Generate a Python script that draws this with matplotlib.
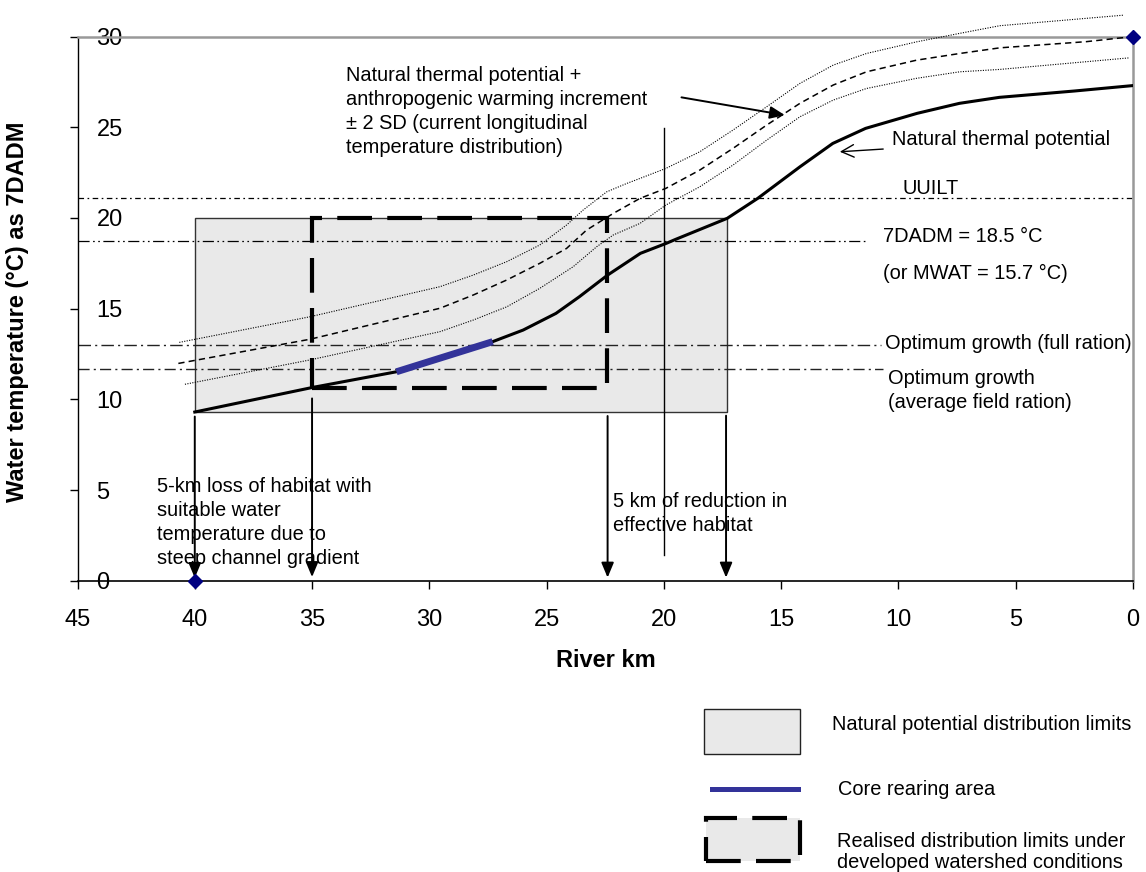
import matplotlib
matplotlib.use("Agg")
import matplotlib.pyplot as plt
from matplotlib.patches import Rectangle
from matplotlib.lines import Line2D

plt.rcParams['font.family'] = ['Liberation Sans', 'DejaVu Sans']
plt.rcParams['lines.scale_dashes'] = False

# ==========================
# data
# ==========================
nat_km = [40, 35, 31.4, 27.3, 26.0, 24.6, 23.6, 22.4, 21.0, 19.9, 19.5, 17.3, 16.0,
          14.2, 12.8, 11.4, 9.2, 7.4, 5.7, 2.5, 0]
nat_t = [9.3, 10.65, 11.52, 13.18, 13.82, 14.74, 15.66, 16.85, 18.05, 18.6, 18.82, 19.98, 21.08,
         22.82, 24.11, 24.94, 25.77, 26.32, 26.65, 27.0, 27.3]

core_km = [31.4, 27.3]
core_t = [11.52, 13.18]

mean_km = [40.7, 35.1, 29.55, 28.13, 26.7, 25.29, 24.15, 23.3, 22.16, 21.02, 19.92, 18.47,
           17.05, 15.62, 14.2, 12.78, 11.36, 9.23, 7.38, 5.68, 2.0, 0]
mean_t = [11.98, 13.31, 15.02, 15.75, 16.58, 17.5, 18.32, 19.33, 20.25, 21.08, 21.63, 22.64,
          23.84, 25.12, 26.32, 27.33, 28.06, 28.7, 29.07, 29.38, 29.72, 30.0]

up_km = [40.66, 35.1, 29.55, 28.13, 26.7, 25.29, 24.15, 23.44, 22.44, 21.59, 21.02, 19.92,
         18.47, 17.05, 15.62, 14.2, 12.78, 11.36, 9.23, 7.38, 5.68, 0.42]
up_t = [13.14, 14.55, 16.21, 16.85, 17.59, 18.51, 19.61, 20.44, 21.44, 21.9, 22.18, 22.73,
        23.65, 24.85, 26.13, 27.42, 28.43, 29.07, 29.71, 30.18, 30.6, 31.18]

lo_km = [40.42, 35.1, 29.55, 28.13, 26.7, 25.29, 23.87, 22.87, 22.16, 21.02, 19.92, 18.47,
         17.05, 15.62, 14.2, 12.78, 11.36, 9.23, 7.38, 5.68, 0.14]
lo_t = [10.83, 12.17, 13.73, 14.37, 15.1, 16.12, 17.31, 18.41, 19.06, 19.7, 20.71, 21.72,
        22.92, 24.29, 25.58, 26.5, 27.14, 27.7, 28.06, 28.19, 28.83]

# reference temperatures (value, km where the line stops)
uuilt = 21.08
dadm = 18.74
opt_full = 13.01
opt_avg = 11.67
ref_end = [0, 11.3, 10.73, 10.66]

# natural potential box and realised box (km left, km right, t low, t high)
nat_box = [40, 17.3, 9.3, 20.0]
real_box = [35, 22.44, 10.64, 20.0]

arrow_km = [40, 35, 22.4, 17.35]
arrow_top = [9.05, 10.05, 9.08, 9.1]
arrow_bot = [0.15, 0.2, 0.17, 0.17]

marker_km = [40, 0]
marker_t = [0, 30]

xticks = [45, 40, 35, 30, 25, 20, 15, 10, 5, 0]
yticks = [0, 5, 10, 15, 20, 25, 30]

# ==========================
# figure
# ==========================
W, H = 1146, 872
fig = plt.figure(figsize=(W / 100, H / 100), dpi=100)
ax = fig.add_axes([77.5 / W, 1 - 580.7 / H, (1133 - 77.5) / W, (580.7 - 36.6) / H])
ax.set_xlim(45, 0)
ax.set_ylim(0, 30)

# boxes
ax.add_patch(Rectangle((nat_box[0], nat_box[2]), nat_box[1] - nat_box[0], nat_box[3] - nat_box[2],
                       facecolor='#e9e9e9', edgecolor='#333333', lw=1.0, zorder=1))
ax.add_patch(Rectangle((real_box[0], real_box[2]), real_box[1] - real_box[0], real_box[3] - real_box[2],
                       fill=False, edgecolor='black', lw=3.0, linestyle=(0, (25, 11)), zorder=4))

# reference lines
ax.plot([45, ref_end[0]], [uuilt, uuilt], color='black', lw=0.9, ls=(0, (4, 2.5, 1.2, 2.5)), zorder=2)
ax.plot([45, ref_end[1]], [dadm, dadm], color='black', lw=0.9,
        ls=(0, (8, 2.5, 1.2, 2.5, 1.2, 2.5)), zorder=2)
ax.plot([45, ref_end[2]], [opt_full, opt_full], color='#222222', lw=1.0, ls=(0, (9, 3, 1.5, 3)), zorder=2)
ax.plot([45, ref_end[3]], [opt_avg, opt_avg], color='#222222', lw=1.0, ls=(0, (8, 3, 1.5, 3)), zorder=2)

# curves
ax.plot(up_km, up_t, color='black', lw=0.8, ls=(0, (0.8, 1.0)), clip_on=False, zorder=3)
ax.plot(lo_km, lo_t, color='black', lw=0.8, ls=(0, (0.8, 1.0)), clip_on=False, zorder=3)
ax.plot(mean_km, mean_t, color='black', lw=1.1, ls=(0, (4.5, 3)), clip_on=False, zorder=3)
ax.plot(nat_km, nat_t, color='black', lw=2.2, zorder=5)
ax.plot(core_km, core_t, color='#333399', lw=5, solid_capstyle='butt', zorder=6)

# vertical marker at 20 km
ax.plot([20, 20], [1.42, 24.94], color='black', lw=1.0, zorder=6)

# down arrows
for k, t0, t1 in zip(arrow_km, arrow_top, arrow_bot):
    ax.annotate('', xy=(k, t1), xytext=(k, t0),
                arrowprops=dict(arrowstyle='-|>,head_length=0.6,head_width=0.25', mutation_scale=15,
                                color='black', lw=1.4, shrinkA=0, shrinkB=0), zorder=6)

ax.plot(marker_km, marker_t, ls='none', marker='D', ms=7, color='#000080', clip_on=False, zorder=7)

# texts
fs = 14.4
ax.text(33.54, 25.88, "Natural thermal potential +\nanthropogenic warming increment\n"
        "± 2 SD (current longitudinal\ntemperature distribution)",
        fontsize=fs, ha='left', va='center', linespacing=1.33)
ax.annotate('', xy=(14.84, 25.67), xytext=(19.25, 26.65),
            arrowprops=dict(arrowstyle='-|>,head_length=0.6,head_width=0.25', mutation_scale=15,
                            color='black', lw=1.4, shrinkA=0, shrinkB=0))
ax.text(10.29, 24.33, "Natural thermal potential", fontsize=fs, ha='left', va='center')
ax.annotate('', xy=(12.5, 23.65), xytext=(10.65, 23.8),
            arrowprops=dict(arrowstyle='->,head_length=0.6,head_width=0.3', mutation_scale=15,
                            color='black', lw=1.0, shrinkA=0, shrinkB=0))
ax.text(9.81, 21.65, "UUILT", fontsize=fs, ha='left', va='center')
ax.text(10.65, 18.96, "7DADM = 18.5 °C", fontsize=fs, ha='left', va='center')
ax.text(10.65, 16.95, "(or MWAT = 15.7 °C)", fontsize=fs, ha='left', va='center')
ax.text(10.58, 13.09, "Optimum growth (full ration)", fontsize=fs, ha='left', va='center')
ax.text(10.45, 10.5, "Optimum growth\n(average field ration)", fontsize=fs, ha='left', va='center',
        linespacing=1.33)
ax.text(41.61, 3.21, "5-km loss of habitat with\nsuitable water\ntemperature due to\nsteep channel gradient",
        fontsize=fs, ha='left', va='center', linespacing=1.33, zorder=4)
ax.text(22.17, 3.69, "5 km of reduction in\neffective habitat", fontsize=fs, ha='left', va='center',
        linespacing=1.33, zorder=4)

# axes styling
for s in ['top', 'right']:
    ax.spines[s].set_color('#999999')
    ax.spines[s].set_linewidth(1.8)
ax.spines['left'].set_linewidth(1.0)
ax.spines['bottom'].set_linewidth(1.2)
ax.set_xticks(xticks)
ax.set_xticklabels([str(v) for v in xticks])
ax.set_yticks(yticks)
ax.set_yticklabels([str(v) for v in yticks])
ax.tick_params(axis='x', direction='out', length=5.8, width=1.0, pad=14.5, labelsize=17)
ax.tick_params(axis='y', direction='out', length=5.8, width=1.0, pad=-19.5, labelsize=17)
for lbl in ax.get_yticklabels():
    lbl.set_horizontalalignment('left')

fig.text(18 / W, 1 - 312 / H, "Water temperature (°C) as 7DADM", rotation=90, fontsize=17,
         fontweight='bold', ha='center', va='center')
fig.text(606 / W, 1 - 660 / H, "River km", fontsize=17, fontweight='bold', ha='center', va='center')

# legend drawn in figure pixels
def fx(x):
    return x / W

def fy(y):
    return 1 - y / H

fig.patches.append(Rectangle((fx(704), fy(754)), fx(800) - fx(704), fy(709) - fy(754),
                             facecolor='#e9e9e9', edgecolor='#222222', lw=1.0,
                             transform=fig.transFigure, figure=fig))
fig.text(fx(832), fy(724), "Natural potential distribution limits", fontsize=fs, ha='left', va='center')
fig.lines.append(Line2D([fx(712), fx(798)], [fy(789), fy(789)], color='#333399', lw=3.6,
                        transform=fig.transFigure, figure=fig))
fig.text(fx(838), fy(789), "Core rearing area", fontsize=fs, ha='left', va='center')
fig.patches.append(Rectangle((fx(706), fy(861)), fx(800) - fx(706), fy(818) - fy(861),
                             facecolor='#e9e9e9', edgecolor='none',
                             transform=fig.transFigure, figure=fig))
fig.patches.append(Rectangle((fx(706), fy(861)), fx(800) - fx(706), fy(818) - fy(861),
                             fill=False, edgecolor='black', lw=3.0, linestyle=(0, (25, 11)),
                             transform=fig.transFigure, figure=fig))
fig.text(fx(837), fy(852), "Realised distribution limits under\ndeveloped watershed conditions",
         fontsize=fs, ha='left', va='center', linespacing=1.15)

fig.savefig("out.png", dpi=100)
